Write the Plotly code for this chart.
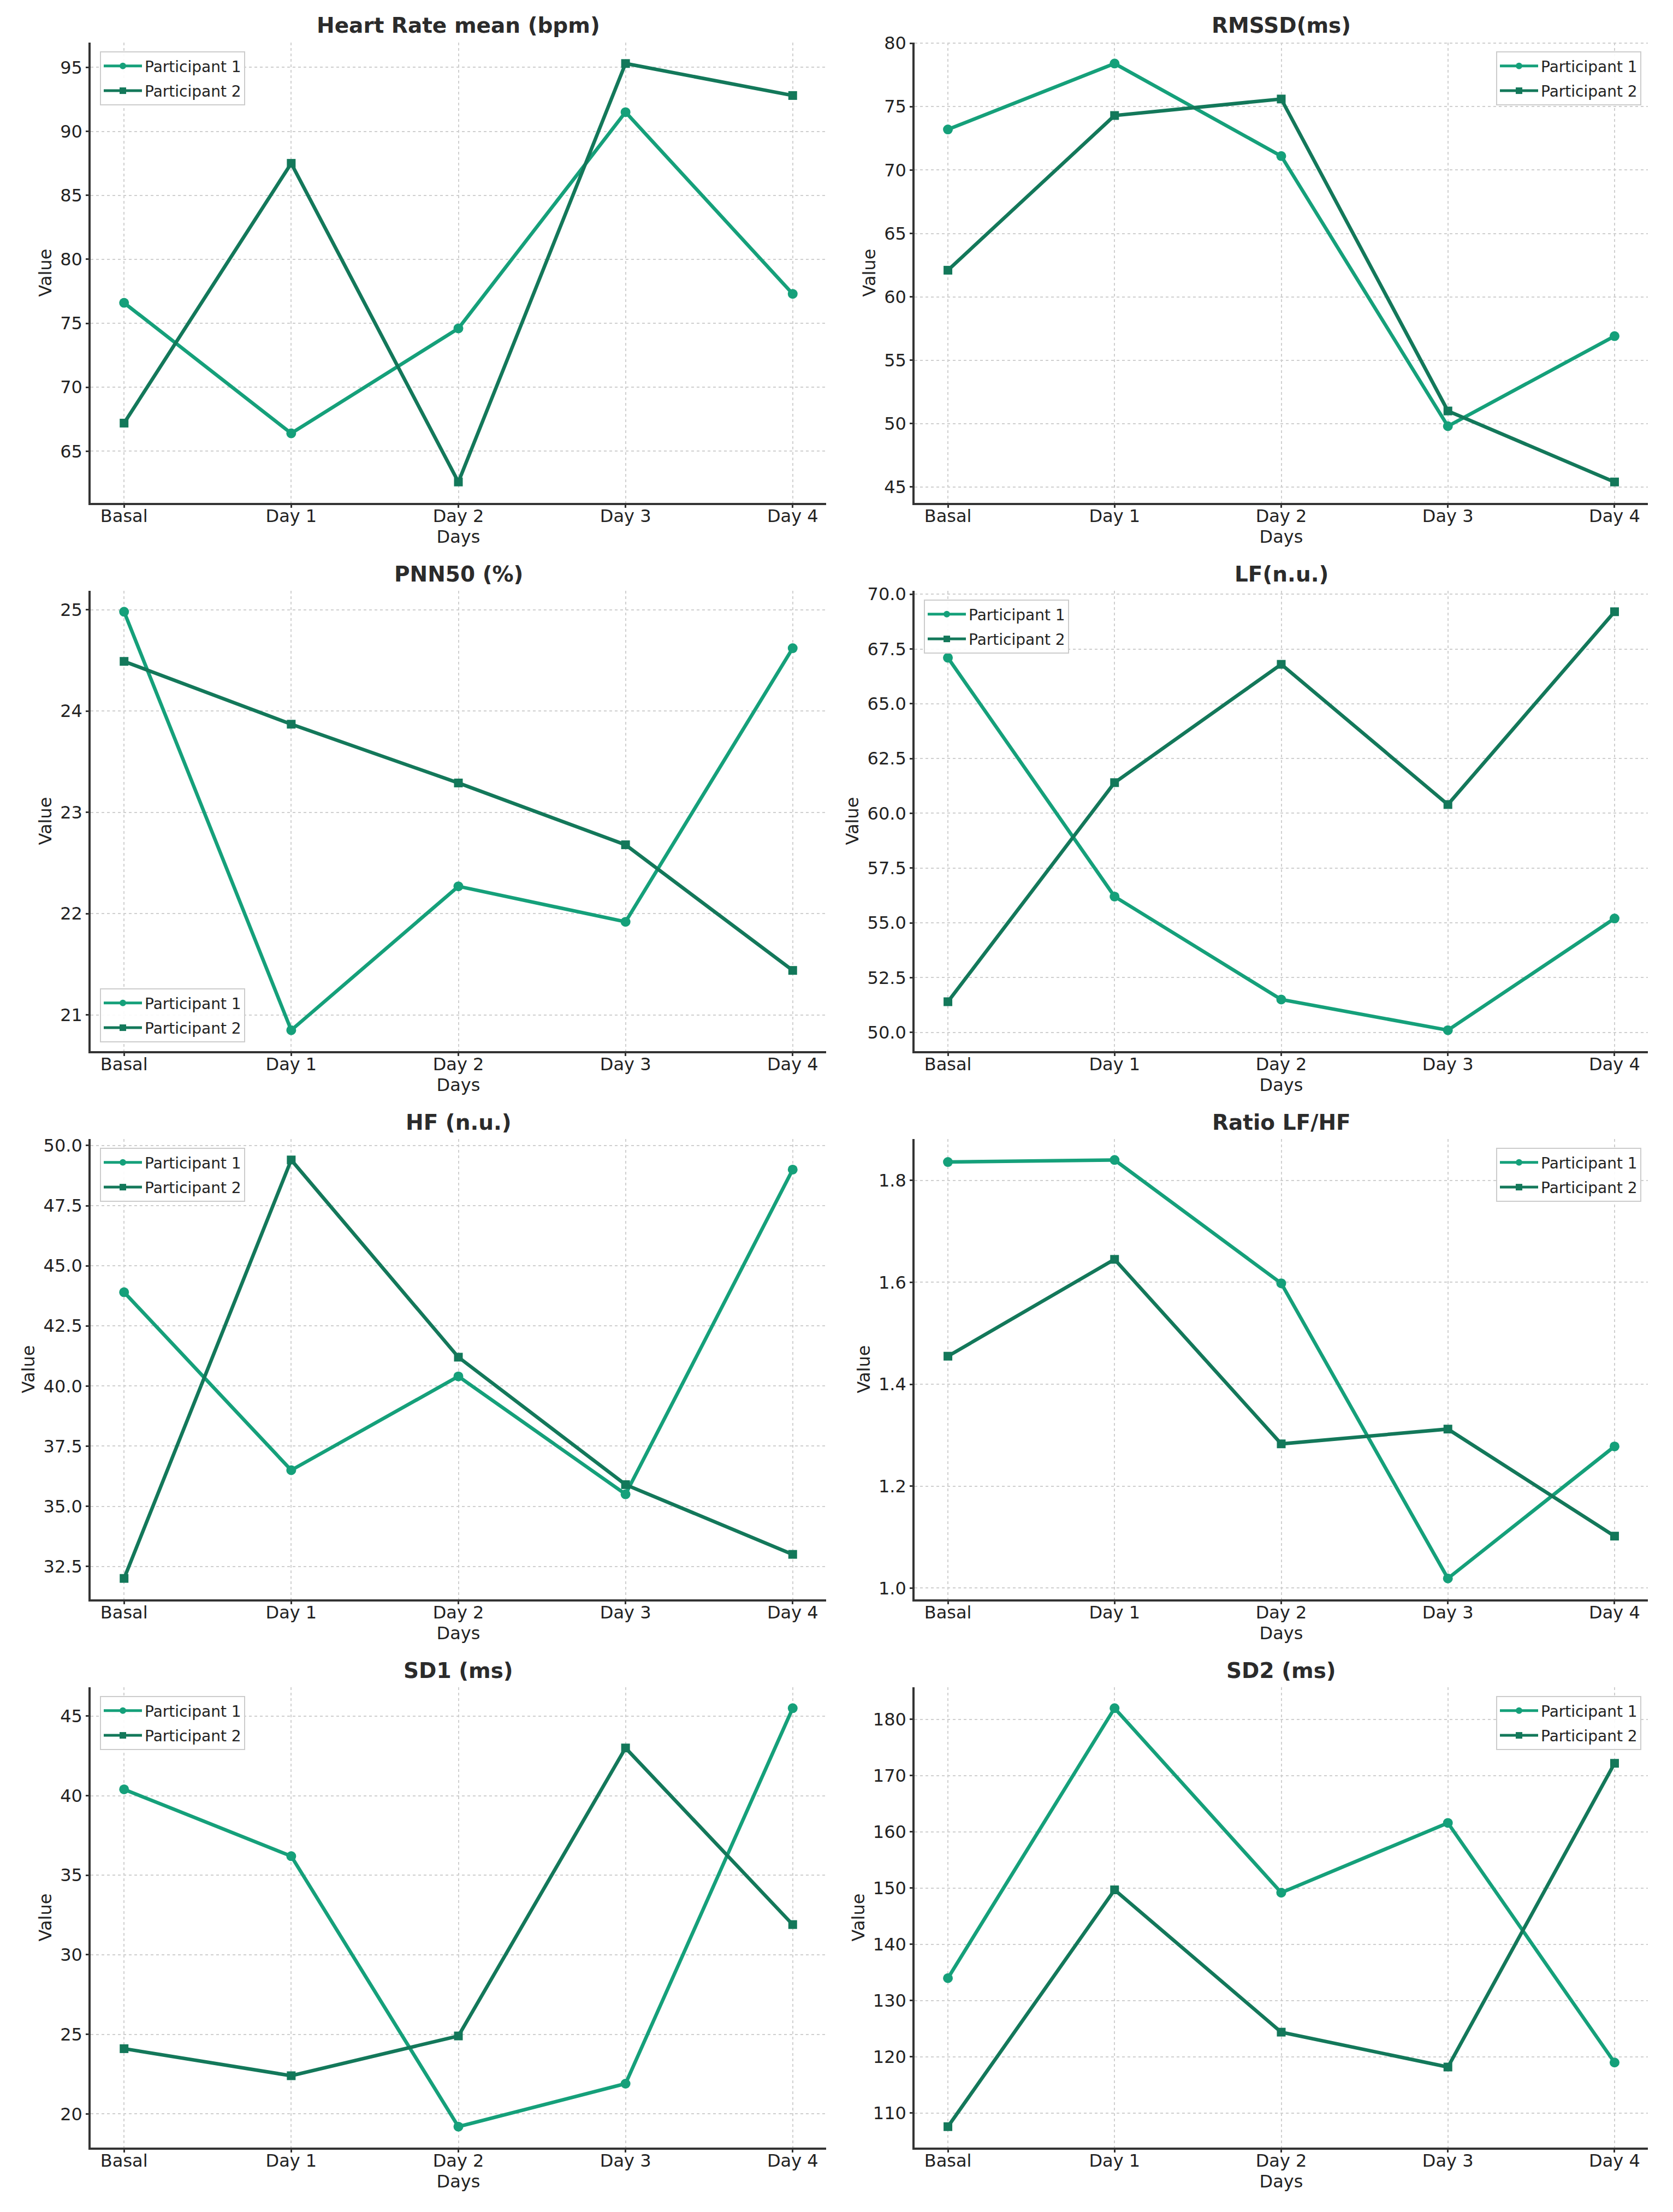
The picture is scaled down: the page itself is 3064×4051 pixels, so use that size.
import plotly.graph_objects as go

# ---------------- data ----------------
days = ["Basal", "Day 1", "Day 2", "Day 3", "Day 4"]
participants = ["Participant 1", "Participant 2"]

titles = ["Heart Rate mean (bpm)", "RMSSD(ms)", "PNN50 (%)", "LF(n.u.)",
          "HF (n.u.)", "Ratio LF/HF", "SD1 (ms)", "SD2 (ms)"]

hr_p1 = [76.6, 66.4, 74.6, 91.5, 77.3]
hr_p2 = [67.2, 87.5, 62.6, 95.3, 92.8]

rmssd_p1 = [73.2, 78.4, 71.1, 49.8, 56.9]
rmssd_p2 = [62.1, 74.3, 75.6, 51.0, 45.4]

pnn50_p1 = [24.98, 20.85, 22.27, 21.92, 24.62]
pnn50_p2 = [24.49, 23.87, 23.29, 22.68, 21.44]

lf_p1 = [67.1, 56.2, 51.5, 50.1, 55.2]
lf_p2 = [51.4, 61.4, 66.8, 60.4, 69.2]

hf_p1 = [43.9, 36.5, 40.4, 35.5, 49.0]
hf_p2 = [32.0, 49.4, 41.2, 35.9, 33.0]

ratio_p1 = [1.836, 1.840, 1.598, 1.019, 1.278]
ratio_p2 = [1.455, 1.645, 1.283, 1.312, 1.102]

sd1_p1 = [40.4, 36.2, 19.2, 21.9, 45.5]
sd1_p2 = [24.1, 22.4, 24.9, 43.0, 31.9]

sd2_p1 = [134.0, 182.0, 149.2, 161.6, 119.0]
sd2_p2 = [107.6, 149.7, 124.4, 118.2, 172.2]

series = [(hr_p1, hr_p2), (rmssd_p1, rmssd_p2), (pnn50_p1, pnn50_p2), (lf_p1, lf_p2),
          (hf_p1, hf_p2), (ratio_p1, ratio_p2), (sd1_p1, sd1_p2), (sd2_p1, sd2_p2)]

# tick steps and formats per panel
y_dticks = [5, 5, 1, 2.5, 2.5, 0.2, 5, 10]
y_formats = ["d", "d", "d", ".1f", ".1f", ".1f", "d", "d"]
legend_pos = ["ul", "ur", "ll", "ul", "ul", "ur", "ul", "ur"]

# ---------------- style ----------------
W, H = 3064, 4051
OFF = 8  # page body margin compensation
FONT = "DejaVu Sans"
C1 = "#15a07a"
C2 = "#13785a"
col_px = [(166, 1513), (1675, 3018)]
row_px = [(78, 921), (1082, 1925), (2086, 2929), (3090, 3933)]
col_x = [((a - OFF) / W, (b - OFF) / W) for a, b in col_px]
row_y = [(1 - (b - OFF) / H, 1 - (t - OFF) / H) for t, b in row_px]

fig = go.Figure()
layout = {}
annotations = []

for i, (title, (p1, p2)) in enumerate(zip(titles, series)):
    r, c = divmod(i, 2)
    n = i + 1
    xa = "x" if n == 1 else f"x{n}"
    ya = "y" if n == 1 else f"y{n}"
    lg = "legend" if n == 1 else f"legend{n}"
    for k, (vals, name, col, sym) in enumerate(((p1, participants[0], C1, "circle"),
                                                (p2, participants[1], C2, "square"))):
        fig.add_trace(go.Scatter(
            x=days, y=vals, name=name, mode="lines+markers",
            line=dict(color=col, width=6.5),
            marker=dict(symbol=sym, size=18 if sym == "circle" else 16, color=col),
            xaxis=xa, yaxis=ya, legend=lg, legendgroup=f"p{n}_{k}"))

    allv = list(p1) + list(p2)
    lo, hi = min(allv), max(allv)
    pad = 0.05 * (hi - lo)
    x0, x1 = col_x[c]
    y0, y1 = row_y[r]

    common = dict(showline=True, linecolor="#333333", linewidth=3.5,
                  showgrid=True, gridcolor="#cfcfcf", gridwidth=2, griddash="5px,5px",
                  zeroline=False, ticks="outside", ticklen=5, tickwidth=2.5,
                  tickcolor="#333333", tickfont=dict(family=FONT, size=32, color="#222222"),
                  automargin=False, mirror=False)
    layout["xaxis" if n == 1 else f"xaxis{n}"] = dict(
        domain=[x0, x1], anchor=ya, type="category", range=[-0.2, 4.2],
        ticklabelstandoff=-12,
        title=dict(text="Days", font=dict(family=FONT, size=32, color="#222222"), standoff=2),
        **common)
    layout["yaxis" if n == 1 else f"yaxis{n}"] = dict(
        domain=[y0, y1], anchor=xa, range=[lo - pad, hi + pad],
        tick0=0, dtick=y_dticks[i], tickformat=y_formats[i],
        title=dict(text="Value", font=dict(family=FONT, size=32, color="#222222"), standoff=7),
        **common)

    pos = legend_pos[i]
    lx = x0 + 17 / W if pos in ("ul", "ll") else x1 - 12 / W
    ly = y1 - 16 / H if pos in ("ul", "ur") else y0 + 16 / H
    layout[lg] = dict(
        x=lx, y=ly, xanchor="left" if pos in ("ul", "ll") else "right",
        yanchor="top" if pos in ("ul", "ur") else "bottom",
        bgcolor="rgba(255,255,255,0.9)", bordercolor="#cccccc", borderwidth=2,
        font=dict(family=FONT, size=28, color="#222222"),
        itemsizing="constant", itemwidth=70, tracegroupgap=6)

    annotations.append(dict(
        text=f"<b>{title}</b>", x=(x0 + x1) / 2, y=y1, xref="paper", yref="paper",
        xanchor="center", yanchor="middle", yshift=31, showarrow=False,
        font=dict(family=FONT, size=39, color="#2b2b2b")))

fig.update_layout(
    width=W, height=H, margin=dict(l=0, r=0, t=0, b=0, autoexpand=False),
    paper_bgcolor="white", plot_bgcolor="white",
    font=dict(family=FONT, color="#222222"),
    annotations=annotations, showlegend=True, **layout)

fig.write_html("out.html")
